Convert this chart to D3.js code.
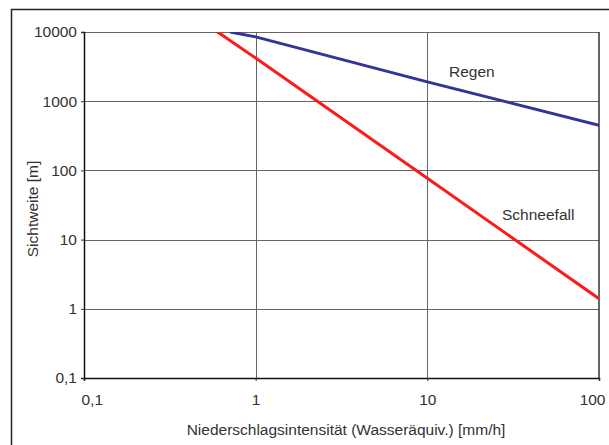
<!DOCTYPE html>
<html>
<head>
<meta charset="utf-8">
<script src="https://cdn.jsdelivr.net/npm/d3@7"></script>
<style>
  body { margin: 0; background: #fff; }
  text { font-family: "Liberation Sans", Arial, sans-serif; fill: #333; }
</style>
</head>
<body>
<svg id="chart"></svg>
<script>
// tick values on both log axes
var xTicks = [0.1, 1, 10, 100];
var yTicks = [0.1, 1, 10, 100, 1000, 10000];

// Regen: rain intensity [mm/h] vs. visibility [m]
var regenX = [0.71, 1, 10, 100];
var regenY = [10000, 8500, 1900, 450];

// Schneefall: snowfall (water equivalent) vs. visibility [m]
var schneeX = [0.6, 1, 10, 100];
var schneeY = [10000, 4200, 77, 1.4];

var width = 609, height = 445;
var margin = { left: 84, right: 10, top: 32, bottom: 67 };
var fontSize = '15.5px';

var svg = d3.select('#chart')
  .attr('width', width)
  .attr('height', height);

// outer frame (only top and left visible in the picture)
svg.append('rect')
  .attr('x', 11.5).attr('y', 9.5)
  .attr('width', 700).attr('height', 500)
  .attr('fill', 'none')
  .attr('stroke', '#222')
  .attr('stroke-width', 1.5);

var x = d3.scaleLog()
  .domain([0.1, 100])
  .range([margin.left, width - margin.right]);
var y = d3.scaleLog()
  .domain([0.1, 10000])
  .range([height - margin.bottom, margin.top]);

svg.append('clipPath').attr('id', 'plot')
  .append('rect')
  .attr('x', x(0.1)).attr('y', y(10000))
  .attr('width', x(100) - x(0.1))
  .attr('height', y(0.1) - y(10000));

// grid
svg.append('g').selectAll('line').data(xTicks.slice(1, -1))
  .enter().append('line')
  .attr('x1', function(d) { return Math.round(x(d)) + 0.5; })
  .attr('x2', function(d) { return Math.round(x(d)) + 0.5; })
  .attr('y1', y(0.1)).attr('y2', y(10000))
  .attr('stroke', '#666');
svg.append('g').selectAll('line').data(yTicks.slice(1))
  .enter().append('line')
  .attr('y1', function(d) { return Math.round(y(d)) + 0.5; })
  .attr('y2', function(d) { return Math.round(y(d)) + 0.5; })
  .attr('x1', x(0.1)).attr('x2', x(100))
  .attr('stroke', '#666');

// right frame edge
svg.append('line')
  .attr('x1', x(100)).attr('x2', x(100))
  .attr('y1', y(10000)).attr('y2', y(0.1))
  .attr('stroke', '#333').attr('stroke-width', 1.5);

var fmt = function(d) { return String(d).replace('.', ','); };

// axes
var xAxis = d3.axisBottom(x).tickValues(xTicks).tickFormat(fmt).tickSize(3).tickPadding(13);
var yAxis = d3.axisLeft(y).tickValues(yTicks).tickFormat(fmt).tickSize(3).tickPadding(4);

var gx = svg.append('g')
  .attr('transform', 'translate(0,' + y(0.1) + ')')
  .call(xAxis);
var gy = svg.append('g')
  .attr('transform', 'translate(' + x(0.1) + ',0)')
  .call(yAxis);

[gx, gy].forEach(function(g) {
  g.select('.domain').attr('stroke', '#111').attr('stroke-width', 1.5);
  g.selectAll('.tick line').attr('stroke', '#333');
  g.selectAll('.tick text')
    .attr('fill', '#333')
    .style('font-size', fontSize)
    .style('font-family', '"Liberation Sans", Arial, sans-serif');
});
gx.selectAll('.tick text')
  .attr('text-anchor', function(d) { return d === 0.1 ? 'start' : d === 100 ? 'end' : 'middle'; })
  .attr('dx', function(d) { return d === 0.1 ? -3 : d === 100 ? 6 : 0; });

// lines
var line = d3.line()
  .x(function(d) { return x(d[0]); })
  .y(function(d) { return y(d[1]); });

var lines = svg.append('g').attr('clip-path', 'url(#plot)');

lines.append('path')
  .datum(regenX.map(function(v, i) { return [v, regenY[i]]; }))
  .attr('d', line)
  .attr('fill', 'none')
  .attr('stroke', '#333399')
  .attr('stroke-width', 3);

lines.append('path')
  .datum(schneeX.map(function(v, i) { return [v, schneeY[i]]; }))
  .attr('d', line)
  .attr('fill', 'none')
  .attr('stroke', '#ff1a1a')
  .attr('stroke-width', 3);

// series labels
svg.append('text')
  .attr('x', 449).attr('y', 77)
  .style('font-size', fontSize)
  .text('Regen');
svg.append('text')
  .attr('x', 502).attr('y', 220)
  .style('font-size', fontSize)
  .text('Schneefall');

// axis titles
svg.append('text')
  .attr('x', 346).attr('y', 435)
  .attr('text-anchor', 'middle')
  .style('font-size', fontSize)
  .text('Niederschlagsintensität (Wasseräquiv.) [mm/h]');
svg.append('text')
  .attr('transform', 'translate(38,209) rotate(-90)')
  .attr('text-anchor', 'middle')
  .style('font-size', fontSize)
  .text('Sichtweite [m]');
</script>
</body>
</html>
